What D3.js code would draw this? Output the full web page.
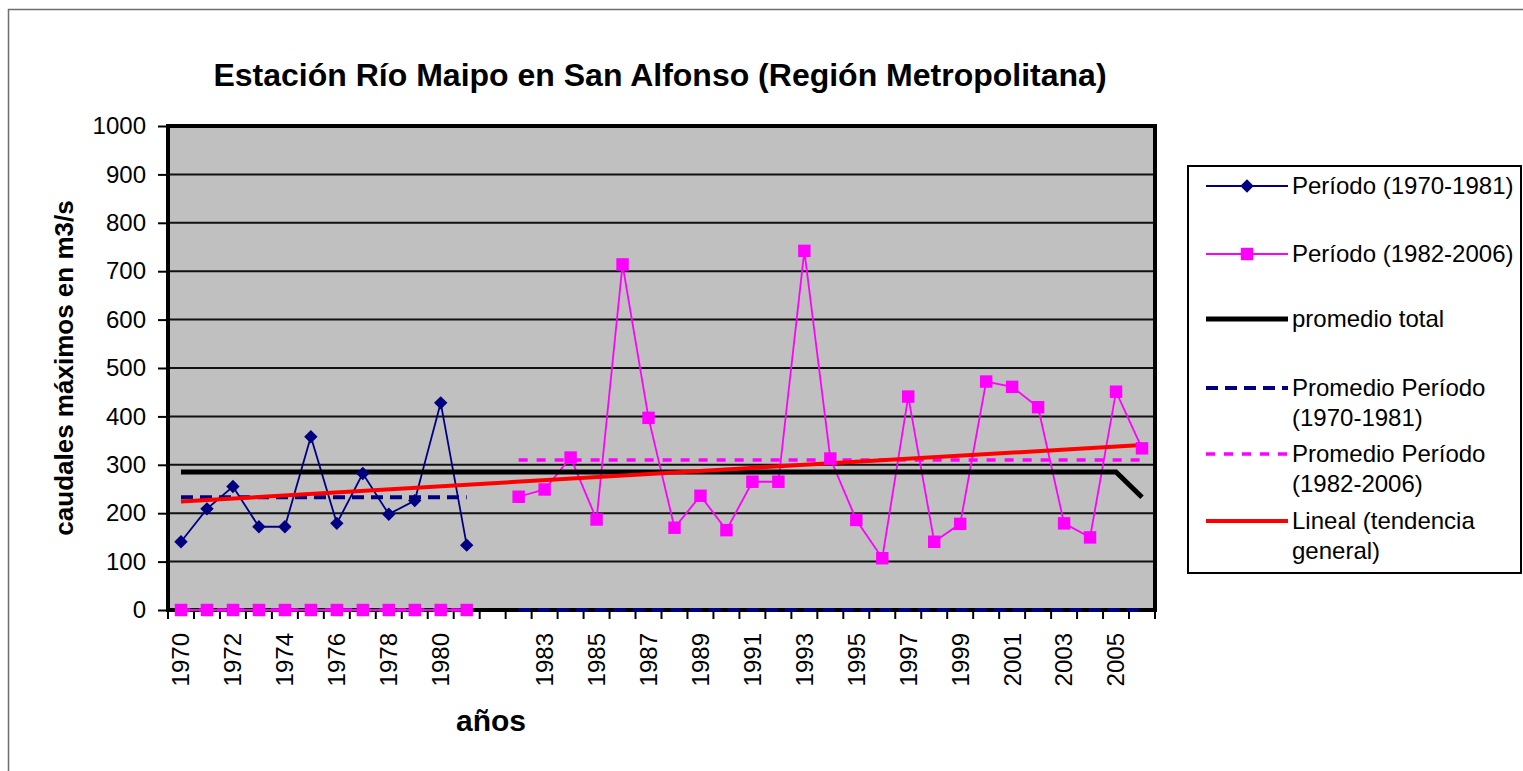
<!DOCTYPE html>
<html>
<head>
<meta charset="utf-8">
<script src="https://cdn.jsdelivr.net/npm/d3@7"></script>
<style>
  body { margin: 0; background: #fff; }
  text { font-family: "Liberation Sans", Arial, sans-serif; }
</style>
</head>
<body>
<div id="chart"></div>
<script>
var svgWidth = 1523;
var svgHeight = 771;

// categories (blank slot between the two periods)
var years = ["1970","1971","1972","1973","1974","1975","1976","1977","1978","1979","1980","1981","",
  "1982","1983","1984","1985","1986","1987","1988","1989","1990","1991","1992","1993","1994",
  "1995","1996","1997","1998","1999","2000","2001","2002","2003","2004","2005","2006"];
var yearLabels = ["1970","1972","1974","1976","1978","1980","1983","1985","1987","1989","1991",
  "1993","1995","1997","1999","2001","2003","2005"];
var yTicks = [0,100,200,300,400,500,600,700,800,900,1000];

var periodo1 = [141,209,255,172,172,358,179,282,198,226,428,134,null,
  null,null,null,null,null,null,null,null,null,null,null,null,null,
  null,null,null,null,null,null,null,null,null,null,null,null];
var periodo2 = [0,0,0,0,0,0,0,0,0,0,0,0,null,
  234,249,315,187,714,397,170,236,165,265,265,742,313,
  186,107,441,141,178,472,461,419,179,150,451,334];
var promTotal = [285,285,285,285,285,285,285,285,285,285,285,285,285,
  285,285,285,285,285,285,285,285,285,285,285,285,285,
  285,285,285,285,285,285,285,285,285,285,285,233];
var promP1 = [233,233,233,233,233,233,233,233,233,233,233,233,null,
  0,0,0,0,0,0,0,0,0,0,0,0,0,
  0,0,0,0,0,0,0,0,0,0,0,0];
var promP2 = [0,0,0,0,0,0,0,0,0,0,0,0,null,
  310,310,310,310,310,310,310,310,310,310,310,310,310,
  310,310,310,310,310,310,310,310,310,310,310,310];
var tendencia = [{year: "1970", v: 224}, {year: "2006", v: 341}];

var navy = "#000080", pink = "#ff00ff", red = "#ff0000";

var svg = d3.select("#chart").append("svg")
  .attr("width", svgWidth)
  .attr("height", svgHeight);

// outer chart border
svg.append("rect")
  .attr("x", 8.5).attr("y", 9.5)
  .attr("width", 1530).attr("height", 780)
  .attr("fill", "#fff")
  .attr("stroke", "#6e6e6e")
  .attr("stroke-width", 1.5);

var x = d3.scaleBand().domain(years).range([168, 1155]);
var y = d3.scaleLinear().domain([0, 1000]).range([610, 126]);
var cx = d => x(d) + x.bandwidth() / 2;

// plot area
svg.append("rect")
  .attr("x", 168).attr("y", 126)
  .attr("width", 987).attr("height", 484)
  .attr("fill", "#c0c0c0");

svg.append("g").selectAll("line")
  .data(yTicks.slice(1, -1))
  .enter().append("line")
  .attr("x1", 168).attr("x2", 1155)
  .attr("y1", d => y(d)).attr("y2", d => y(d))
  .attr("stroke", "#111")
  .attr("stroke-width", 2);

svg.append("rect")
  .attr("x", 168).attr("y", 126)
  .attr("width", 987).attr("height", 484)
  .attr("fill", "none")
  .attr("stroke", "#000")
  .attr("stroke-width", 4);

// y axis
var yAxis = svg.append("g")
  .attr("transform", "translate(168,0)")
  .call(d3.axisLeft(y).tickValues(yTicks).tickFormat(d3.format("d")).tickSize(10).tickPadding(12));
yAxis.select(".domain").remove();
yAxis.selectAll("line").attr("stroke", "#000").attr("stroke-width", 2);
yAxis.selectAll("text").attr("font-size", 24).attr("fill", "#000")
  .attr("font-family", "Liberation Sans, Arial, sans-serif");

// x ticks at band edges
svg.append("g").selectAll("line")
  .data(years.concat(["end"]))
  .enter().append("line")
  .attr("x1", d => d === "end" ? 1155 : x(d))
  .attr("x2", d => d === "end" ? 1155 : x(d))
  .attr("y1", 610).attr("y2", 619)
  .attr("stroke", "#000")
  .attr("stroke-width", 2);

var xAxis = svg.append("g")
  .attr("transform", "translate(0,610)")
  .call(d3.axisBottom(x).tickValues(yearLabels).tickSize(0));
xAxis.select(".domain").remove();
xAxis.selectAll("text")
  .attr("transform", "rotate(-90)")
  .attr("x", -23)
  .attr("y", 0)
  .attr("dy", "0.35em")
  .attr("text-anchor", "end")
  .attr("font-size", 24)
  .attr("fill", "#000")
  .attr("font-family", "Liberation Sans, Arial, sans-serif");

// series lines
function lineOf(values) {
  return d3.line()
    .defined(d => d != null)
    .x((d, i) => cx(years[i]))
    .y(d => y(d))(values);
}

svg.append("path").attr("d", lineOf(periodo1))
  .attr("fill", "none").attr("stroke", navy).attr("stroke-width", 1.8);
svg.append("path").attr("d", lineOf(periodo2))
  .attr("fill", "none").attr("stroke", pink).attr("stroke-width", 1.8);
svg.append("path").attr("d", lineOf(promTotal))
  .attr("fill", "none").attr("stroke", "#000").attr("stroke-width", 5);
svg.append("path").attr("d", lineOf(promP1))
  .attr("fill", "none").attr("stroke", navy).attr("stroke-width", 4)
  .attr("stroke-dasharray", "12,7");
svg.append("path").attr("d", lineOf(promP2))
  .attr("fill", "none").attr("stroke", pink).attr("stroke-width", 3.5)
  .attr("stroke-dasharray", "9,9");
svg.append("path")
  .attr("d", d3.line().x(d => cx(d.year)).y(d => y(d.v))(tendencia))
  .attr("fill", "none").attr("stroke", red).attr("stroke-width", 4);

// markers
var diamond = d3.symbol().type(d3.symbolSquare).size(90);
var square = d3.symbol().type(d3.symbolSquare).size(155);

svg.append("g").selectAll("path")
  .data(periodo1.map((v, i) => ({v: v, year: years[i]})).filter(d => d.v != null))
  .enter().append("path")
  .attr("d", diamond)
  .attr("transform", d => `translate(${cx(d.year)},${y(d.v)}) rotate(45)`)
  .attr("fill", navy);

svg.append("g").selectAll("path")
  .data(periodo2.map((v, i) => ({v: v, year: years[i]})).filter(d => d.v != null))
  .enter().append("path")
  .attr("d", square)
  .attr("transform", d => `translate(${cx(d.year)},${y(d.v)})`)
  .attr("fill", pink);

// titles
svg.append("text")
  .attr("x", 660).attr("y", 86)
  .attr("text-anchor", "middle")
  .attr("font-size", 32)
  .attr("font-weight", "bold")
  .text("Estación Río Maipo en San Alfonso (Región Metropolitana)");

svg.append("text")
  .attr("transform", "translate(73,368) rotate(-90)")
  .attr("text-anchor", "middle")
  .attr("font-size", 26)
  .attr("font-weight", "bold")
  .text("caudales máximos en m3/s");

svg.append("text")
  .attr("x", 491).attr("y", 731)
  .attr("text-anchor", "middle")
  .attr("font-size", 30)
  .attr("font-weight", "bold")
  .text("años");

// legend
var legend = svg.append("g");
legend.append("rect")
  .attr("x", 1188).attr("y", 166)
  .attr("width", 333).attr("height", 407)
  .attr("fill", "#fff")
  .attr("stroke", "#000")
  .attr("stroke-width", 2);

var legendItems = [
  {lines: ["Período (1970-1981)"], y: 186, color: navy, width: 1.8, dash: null, mark: "diamond"},
  {lines: ["Período (1982-2006)"], y: 254, color: pink, width: 1.8, dash: null, mark: "square"},
  {lines: ["promedio total"], y: 319, color: "#000", width: 5, dash: null, mark: null},
  {lines: ["Promedio Período", "(1970-1981)"], y: 388, color: navy, width: 4, dash: "12,7", mark: null},
  {lines: ["Promedio Período", "(1982-2006)"], y: 454, color: pink, width: 3.5, dash: "9,9", mark: null},
  {lines: ["Lineal (tendencia", "general)"], y: 521, color: red, width: 4, dash: null, mark: null}
];

legendItems.forEach(function(item) {
  legend.append("line")
    .attr("x1", 1206).attr("x2", 1288)
    .attr("y1", item.y).attr("y2", item.y)
    .attr("stroke", item.color)
    .attr("stroke-width", item.width)
    .attr("stroke-dasharray", item.dash);
  if (item.mark === "diamond") {
    legend.append("path").attr("d", diamond)
      .attr("transform", `translate(1247,${item.y}) rotate(45)`)
      .attr("fill", item.color);
  }
  if (item.mark === "square") {
    legend.append("path").attr("d", square)
      .attr("transform", `translate(1247,${item.y})`)
      .attr("fill", item.color);
  }
  item.lines.forEach(function(t, j) {
    legend.append("text")
      .attr("x", 1292)
      .attr("y", item.y + j * 30)
      .attr("dy", "0.35em")
      .attr("font-size", 24)
      .text(t);
  });
});
</script>
</body>
</html>
